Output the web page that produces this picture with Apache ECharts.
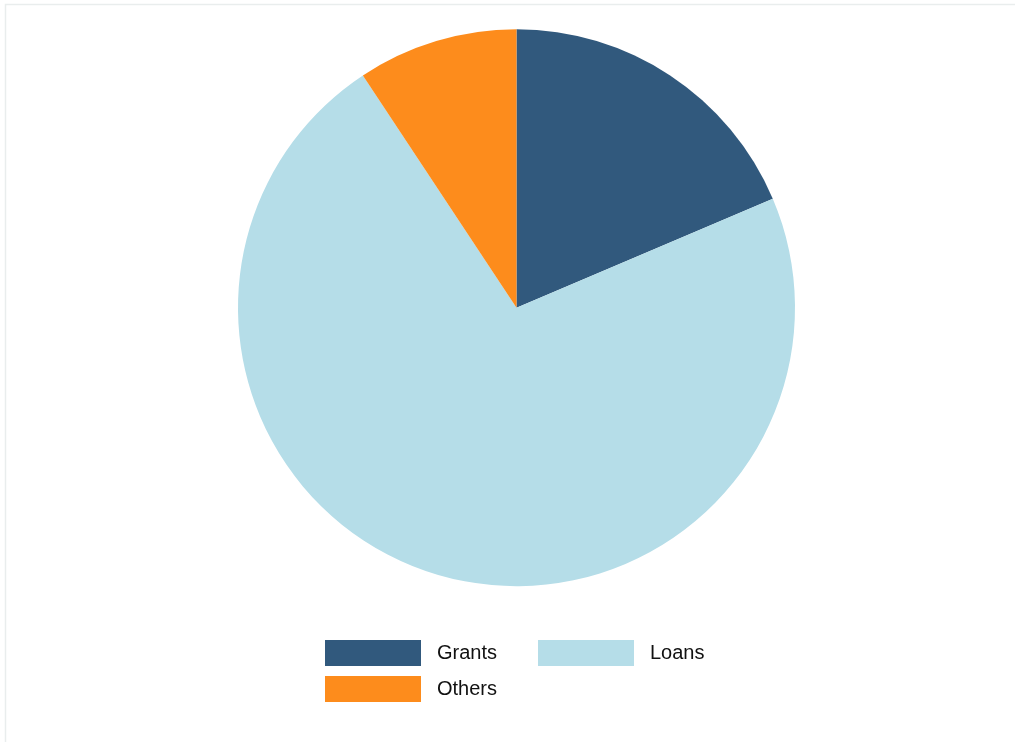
<!DOCTYPE html>
<html>
	<head>
		<meta charset="utf-8">
		<title></title>
		<script type="text/javascript" src="https://cdn.jsdelivr.net/npm/echarts@6/dist/echarts.min.js"></script>
		<style>
			html, body { margin: 0; padding: 0; background: #fff; }
		</style>
	</head>
	<body>
		<div id="chart" style="width:1015px;height:742px;"></div>
		<script type="text/javascript">
			// 数据
			var categories = ['Grants', 'Loans', 'Others'];
			var shares = [18.6, 72.1, 9.3];
			var colors = ['#31597d', '#b5dde8', '#fd8c1c'];

			// 图例位置 (每个分类一个图例)
			var legendPos = [[325, 640], [538, 640], [325, 676]];

			var myChart = echarts.init(document.getElementById('chart'));

			var seriesData = [];
			for (var i = 0; i < categories.length; i++) {
				seriesData.push({ name: categories[i], value: shares[i], itemStyle: { color: colors[i] } });
			}

			var legends = [];
			for (var j = 0; j < categories.length; j++) {
				legends.push({
					data: [categories[j]],
					left: legendPos[j][0],
					top: legendPos[j][1],
					padding: 0,
					itemWidth: 96,
					itemHeight: 26,
					icon: 'rect',
					selectedMode: false,
					textStyle: {
						fontFamily: 'Liberation Sans',
						fontSize: 20,
						color: '#111',
						padding: [0, 0, 0, 11]
					}
				});
			}

			var option = {
				animation: false,
				color: colors,
				graphic: [{
					type: 'rect',
					shape: { x: 5.5, y: 4.5, width: 1200, height: 900 },
					style: { fill: 'none', stroke: '#e9eded', lineWidth: 1.5 },
					silent: true
				}],
				legend: legends,
				series: [{
					name: 'Share',
					type: 'pie',
					center: [516.5, 307.7],
					radius: 278.5,
					startAngle: 90,
					clockwise: true,
					label: { show: false },
					labelLine: { show: false },
					itemStyle: { borderWidth: 0 },
					emphasis: { disabled: true },
					data: seriesData
				}]
			};
			myChart.setOption(option);
		</script>
	</body>
</html>
